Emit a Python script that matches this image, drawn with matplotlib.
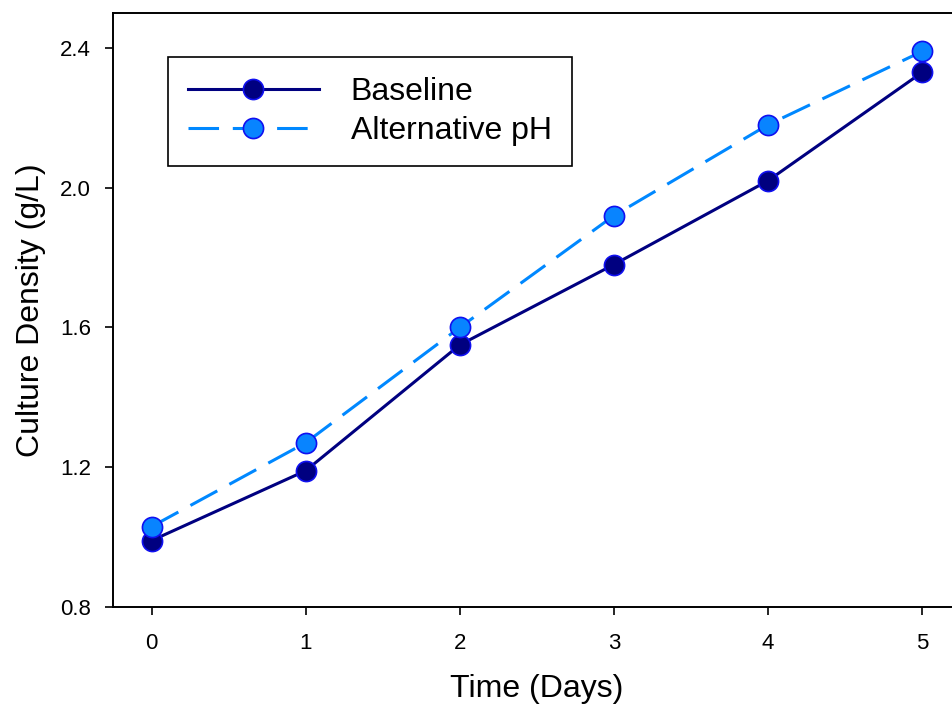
import numpy as np
import matplotlib.pyplot as plt

plt.rcParams['font.family'] = ['Liberation Sans', 'DejaVu Sans']

days = np.array([0, 1, 2, 3, 4, 5])
baseline = np.array([0.99, 1.19, 1.55, 1.78, 2.02, 2.33])
alt_ph = np.array([1.03, 1.27, 1.60, 1.92, 2.18, 2.39])

fig = plt.figure(figsize=(9.52, 7.07), dpi=100)
ax = fig.add_axes([113/952, 100/707, (960.6-113)/952, 594/707])

ax.plot(days, baseline, '-', color='#000080', lw=2.2, marker='o', ms=14.5,
        mfc='#000080', mec='#1010f0', mew=1.2, label='Baseline', zorder=3)
ax.plot(days, alt_ph, color='#0088ff', lw=2.2, dashes=(10, 4.5), marker='o', ms=14.5,
        mfc='#0884ff', mec='#1010f0', mew=1.2, label='Alternative pH', zorder=3)

ax.set_xlim(-0.25, 5.25)
ax.set_ylim(0.8, 2.5)
ax.set_xticks(days)
ax.set_yticks([0.8, 1.2, 1.6, 2.0, 2.4])
ax.set_yticklabels(['0.8', '1.2', '1.6', '2.0', '2.4'])
ax.tick_params(direction='out', length=6, width=1.2, labelsize=16)
ax.tick_params(axis='x', pad=13)
ax.tick_params(axis='y', pad=10)
for s in ax.spines.values():
    s.set_linewidth(1.4)

ax.set_xlabel('Time (Days)', fontsize=23, labelpad=14)
ax.set_ylabel('Culture Density (g/L)', fontsize=23, labelpad=10)

leg = ax.legend(loc='upper left', bbox_to_anchor=(0.0649, 0.926), borderaxespad=0,
                fontsize=23, handlelength=4.1, handletextpad=1.0, labelspacing=0.3,
                numpoints=1, fancybox=False, framealpha=1, edgecolor='black',
                borderpad=0.62)
leg.get_frame().set_linewidth(1.2)

fig.savefig('out.png', dpi=100)
